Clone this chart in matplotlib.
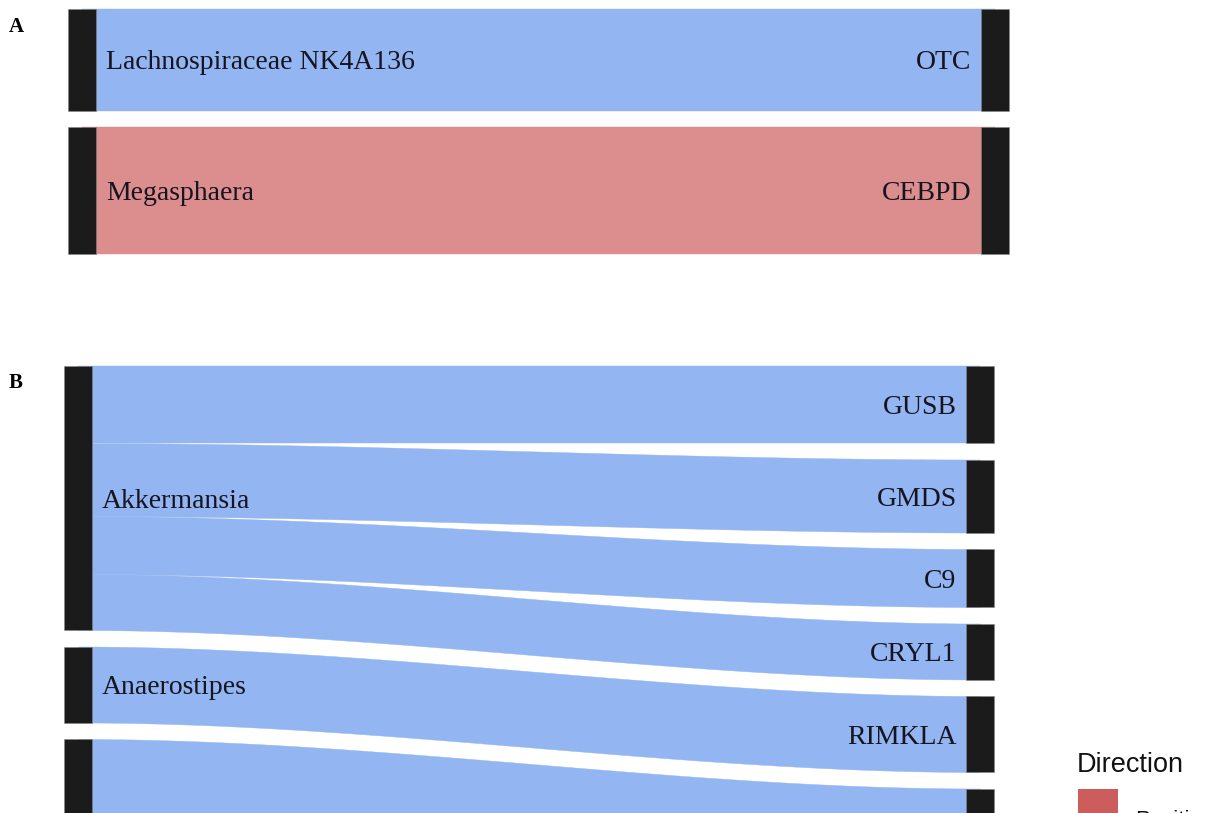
import matplotlib.pyplot as plt
import matplotlib.colors as mcolors
from matplotlib.patches import Rectangle
import numpy as np

# Panel A: genus -> gene links
a_source = ['Lachnospiraceae NK4A136', 'Megasphaera']
a_target = ['OTC', 'CEBPD']
a_value = [0.80, 1.00]
a_direction = ['Negative', 'Positive']

# Panel B: genus -> gene links (bottom part is cut off in the figure)
b_source = ['Akkermansia', 'Akkermansia', 'Akkermansia', 'Akkermansia',
            'Anaerostipes', '', '']
b_target = ['GUSB', 'GMDS', 'C9', 'CRYL1', 'RIMKLA', '', ' ']
b_value = [0.77, 0.73, 0.58, 0.56, 0.76, 0.90, 0.90]
b_direction = ['Negative'] * 7

directions = ['Positive', 'Negative']
colors = {'Positive': 'indianred', 'Negative': 'cornflowerblue'}
ALPHA = 0.7

W, H = 1219, 813
fig = plt.figure(figsize=(W / 100, H / 100), dpi=100)

SERIF = ['Liberation Serif', 'DejaVu Serif']
SANS = ['Liberation Sans', 'DejaVu Sans']
TEXT_COLOR = '#151520'


def faded(c):
    # alpha-blend over white, so adjacent flows can overlap without seams
    rgb = np.array(mcolors.to_rgb(c))
    return tuple(rgb * ALPHA + (1 - ALPHA))


def panel_axes(px_top, px_bottom, x1_px, x2_px, unit_px, y0_px):
    # axes spanning the full width; x=1 / x=2 are the two strata columns
    ax = fig.add_axes([0, 1 - px_bottom / H, 1, (px_bottom - px_top) / H])
    span = x2_px - x1_px
    ax.set_xlim(1 - x1_px / span, 1 + (W - x1_px) / span)
    ax.set_ylim((px_bottom - y0_px) / unit_px, (px_top - y0_px) / unit_px)
    ax.axis('off')
    return ax


def draw_alluvial(ax, src, tgt, val, dirs, gap, width=0.03, fontsize=20):
    left_nodes = list(dict.fromkeys(src))
    right_nodes = list(dict.fromkeys(tgt))
    left_size = {n: sum(v for s, v in zip(src, val) if s == n) for n in left_nodes}
    right_size = {n: sum(v for t, v in zip(tgt, val) if t == n) for n in right_nodes}

    left_top, right_top = {}, {}
    y = 0.0
    for n in left_nodes:
        left_top[n] = y
        y += left_size[n] + gap
    y = 0.0
    for n in right_nodes:
        right_top[n] = y
        y += right_size[n] + gap

    lcur, rcur = dict(left_top), dict(right_top)
    t = np.linspace(0, 1, 400)
    smooth = 3 * t ** 2 - 2 * t ** 3
    xs = 1 + t
    for s, g, v, d in zip(src, tgt, val, dirs):
        top = lcur[s] + (rcur[g] - lcur[s]) * smooth
        c = faded(colors[d])
        ax.fill_between(xs, top, top + v, facecolor=c, edgecolor=c, lw=0.3)
        lcur[s] += v
        rcur[g] += v

    # strata
    for n in left_nodes:
        ax.add_patch(Rectangle((1 - width / 2, left_top[n]), width, left_size[n],
                               facecolor='#1b1b1b', edgecolor='#888888', lw=0.4,
                               zorder=3))
        if n.strip():
            ax.annotate(n, (1 + width / 2, left_top[n] + left_size[n] / 2),
                        xytext=(7.5, 0), textcoords='offset points',
                        ha='left', va='center_baseline', fontsize=fontsize,
                        family=SERIF, color=TEXT_COLOR, zorder=4)
    for n in right_nodes:
        ax.add_patch(Rectangle((2 - width / 2, right_top[n]), width, right_size[n],
                               facecolor='#1b1b1b', edgecolor='#888888', lw=0.4,
                               zorder=3))
        if n.strip():
            ax.annotate(n, (2 - width / 2, right_top[n] + right_size[n] / 2),
                        xytext=(-7, 0), textcoords='offset points',
                        ha='right', va='center_baseline', fontsize=fontsize,
                        family=SERIF, color=TEXT_COLOR, zorder=4)


axA = panel_axes(0, 300, 82, 995, 127, 9)
draw_alluvial(axA, a_source, a_target, a_value, a_direction, gap=0.126)

axB = panel_axes(330, 813, 78, 980, 100, 366)
draw_alluvial(axB, b_source, b_target, b_value, b_direction, gap=0.165)

# panel letters
fig.text(9 / W, 1 - 32 / H, 'A', fontsize=15, fontweight='bold', family=SERIF)
fig.text(9 / W, 1 - 388 / H, 'B', fontsize=15, fontweight='bold', family=SERIF)

# legend (cut off at the bottom edge, as in the source figure)
lg = fig.add_axes([0, 0, 1, 1])
lg.set_xlim(0, W)
lg.set_ylim(H, 0)
lg.axis('off')
lg.patch.set_alpha(0)
lg.text(1077, 772, 'Direction', fontsize=19.5, family=SANS, color='#111111')
for i, d in enumerate(directions):
    y0 = 789 + i * 58
    lg.add_patch(Rectangle((1078, y0), 40, 40, facecolor=colors[d], lw=0))
    lg.text(1135, y0 + 37, d, fontsize=16, family=SANS, color='#111111')

fig.savefig('out.png', dpi=100)
